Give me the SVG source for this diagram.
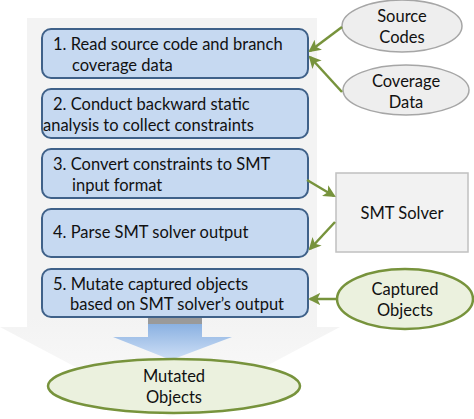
<svg xmlns="http://www.w3.org/2000/svg" width="474" height="419" viewBox="0 0 474 419">
<defs>
<style>
.box{fill:#c6d9f1;stroke:#3f6189;stroke-width:2}
.t{font-family:Lato,"Open Sans",sans-serif;font-size:16.5px;fill:#111}
.tc{font-family:Lato,"Open Sans",sans-serif;font-size:16.5px;fill:#111;text-anchor:middle}
.gray{fill:#eeeeee;stroke:#a6a6a6;stroke-width:1.5}
.green{fill:#ebf1de;stroke:#77933c;stroke-width:2.5}
.conn{stroke:#77933c;stroke-width:2.5;fill:none;marker-end:url(#ah)}
</style>
<marker id="ah" viewBox="0 0 12 12" refX="10" refY="6" markerWidth="5" markerHeight="5" orient="auto" markerUnits="strokeWidth">
<path d="M0,0 L12,6 L0,12 L3,6 Z" fill="#77933c"/>
</marker>
<linearGradient id="bg" x1="0" y1="0" x2="0" y2="1">
<stop offset="0" stop-color="#f3f3f3"/>
<stop offset="0.75" stop-color="#f3f3f3"/>
<stop offset="1" stop-color="#fbfbfb"/>
</linearGradient>
<linearGradient id="bl" x1="0" y1="0" x2="0" y2="1">
<stop offset="0" stop-color="#7fa9de"/>
<stop offset="1" stop-color="#cfe0f6"/>
</linearGradient>
</defs>
<g id="background">
<path d="M27,18 H317 V327 H340 L170,417 L0,327 H27 Z" fill="url(#bg)"/>
</g>
<g id="step1"><rect class="box" x="42" y="29" width="266" height="49" rx="9"/>
<text class="t" x="53" y="50">1. Read source code and branch</text>
<text class="t" x="72" y="71">coverage data</text></g>
<g id="step2"><rect class="box" x="42" y="89" width="266" height="49" rx="9"/>
<text class="t" x="53" y="110">2. Conduct backward static</text>
<text class="t" x="43" y="131">analysis to collect constraints</text></g>
<g id="step3"><rect class="box" x="42" y="149" width="266" height="49" rx="9"/>
<text class="t" x="53" y="170">3. Convert constraints to SMT</text>
<text class="t" x="72" y="191">input format</text></g>
<g id="step4"><rect class="box" x="42" y="209" width="266" height="48" rx="9"/>
<text class="t" x="53" y="238">4. Parse SMT solver output</text></g>
<g id="step5"><rect class="box" x="42" y="269" width="266" height="48" rx="9"/>
<text class="t" x="53" y="290">5. Mutate captured objects</text>
<text class="t" x="70" y="310">based on SMT solver’s output</text></g>
<g id="source-codes"><ellipse class="gray" cx="402" cy="26" rx="60" ry="26"/>
<text class="tc" x="402" y="22">Source</text>
<text class="tc" x="402" y="43">Codes</text></g>
<g id="coverage-data"><ellipse class="gray" cx="406" cy="90" rx="63" ry="25"/>
<text class="tc" x="406" y="87">Coverage</text>
<text class="tc" x="406" y="108">Data</text></g>
<g id="smt-solver"><rect x="336" y="173" width="132" height="79" fill="#f2f2f2" stroke="#c0c0c0" stroke-width="1.5"/>
<text class="tc" x="402" y="219">SMT Solver</text></g>
<g id="captured-objects"><ellipse class="green" cx="405" cy="299" rx="68" ry="30"/>
<text class="tc" x="405" y="295">Captured</text>
<text class="tc" x="405" y="316">Objects</text></g>
<g id="flow-arrow">
<path d="M148,318 H202 V337 H232 L171,360 L113,337 H148 Z" fill="url(#bl)"/>
<rect x="148" y="318" width="54" height="6" fill="#9a9a9a"/>
</g>
<g id="mutated-objects"><ellipse class="green" cx="174" cy="386" rx="126" ry="27"/>
<text class="tc" x="174" y="382">Mutated</text>
<text class="tc" x="174" y="403">Objects</text></g>
<g id="connectors">
<line class="conn" x1="342" y1="27" x2="310" y2="51"/>
<line class="conn" x1="342" y1="92" x2="310" y2="57"/>
<line class="conn" x1="307" y1="180" x2="334" y2="196"/>
<line class="conn" x1="335" y1="222" x2="310" y2="249"/>
<line class="conn" x1="336" y1="299" x2="310" y2="299"/>
</g>
</svg>
